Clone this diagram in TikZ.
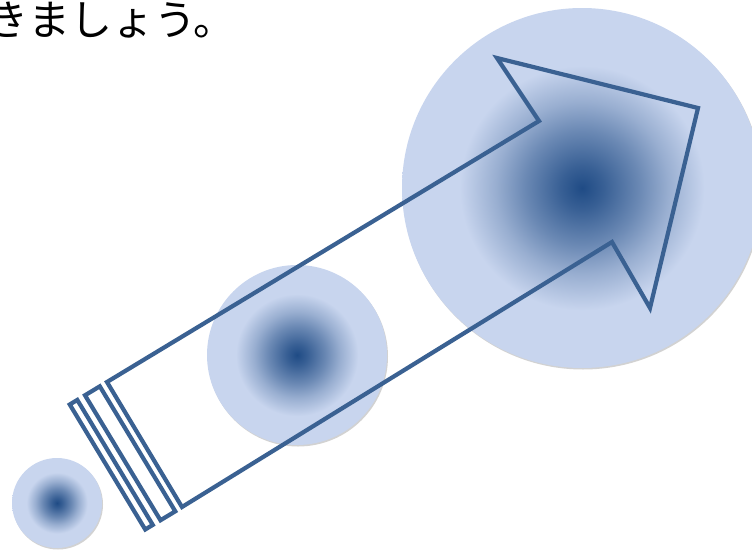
\documentclass[tikz,border=0pt]{standalone}
\usepackage{fontspec}
\newfontfamily\jpfont{Noto Sans CJK JP}
\usepackage{xcolor}
\usepackage{tikz}
\usetikzlibrary{arrows.meta,positioning}

\definecolor{spotlight}{RGB}{200,213,238}
\definecolor{spotdark}{RGB}{31,75,133}
\definecolor{arrowblue}{RGB}{58,97,146}
\pgfdeclareradialshading{spotshade}{\pgfpoint{0bp}{0bp}}{%
  color(0bp)=(spotdark); color(3bp)=(spotdark!85!spotlight);
  color(8bp)=(spotdark!55!spotlight); color(12bp)=(spotdark!28!spotlight);
  color(17bp)=(spotlight); color(50bp)=(spotlight)}

\begin{document}
\begin{tikzpicture}[x=1pt, y=-1pt, outline/.style={draw=arrowblue, line width=4.2pt, miter limit=20}]
\useasboundingbox (0,0) rectangle (752,549);
\node[anchor=base west, inner sep=0pt, font=\jpfont\fontsize{42}{42}\selectfont] (caption) at (-14,35) {きましょう。};
% spots, small to large: x/y/radius
\foreach \x/\y/\r in {57/503/45, 297/355/90, 582/188/180} {
  \fill[gray!35] (\x+1,\y+1.5) circle (\r);
  \shade[shading=spotshade] (\x,\y) circle (\r);
}
% arrow outline
\coordinate (tailtop) at (107,382);
\coordinate (notchup) at (539,121);
\coordinate (barbup) at (497,58);
\coordinate (tip) at (698,108);
\coordinate (barbdown) at (650,308);
\coordinate (notchdown) at (612,242);
\coordinate (tailbot) at (182,507);
\draw[outline] (tailtop) -- (notchup) -- (barbup) -- (tip) -- (barbdown) -- (notchdown) -- (tailbot) -- cycle;
% stripes behind the tail
\begin{scope}[shift={(tailtop)}, rotate=31.13]
  \draw[outline] (-43.5,0) rectangle (-34.7,146);
  \draw[outline] (-25.7,0) rectangle (-8.4,146);
\end{scope}
\end{tikzpicture}
\end{document}
